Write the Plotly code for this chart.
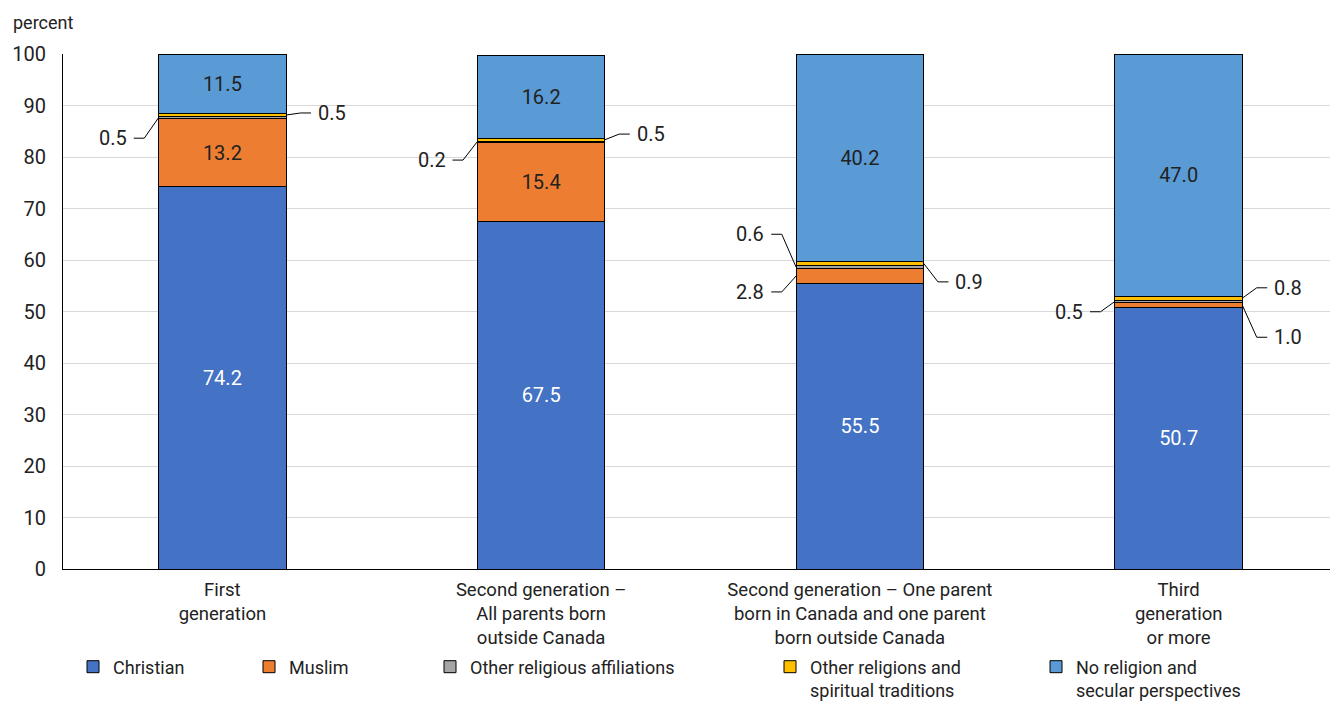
import plotly.graph_objects as go

categories = [
    "First<br>generation",
    "Second generation –<br>All parents born<br>outside Canada",
    "Second generation – One parent<br>born in Canada and one parent<br>born outside Canada",
    "Third<br>generation<br>or more",
]
series_names = [
    "Christian",
    "Muslim",
    "Other religious affiliations",
    "Other religions and<br>spiritual traditions",
    "No religion and<br>secular perspectives",
]
christian = [74.2, 67.5, 55.5, 50.7]
muslim = [13.2, 15.4, 2.8, 1.0]
other_affiliations = [0.5, 0.2, 0.6, 0.5]
other_religions = [0.5, 0.5, 0.9, 0.8]
no_religion = [11.5, 16.2, 40.2, 47.0]
series_values = [christian, muslim, other_affiliations, other_religions, no_religion]
colors = ["#4472C4", "#ED7D31", "#A5A5A5", "#FFC000", "#5B9BD5"]
text_colors = ["#FFFFFF", "#222222", "#222222", "#222222", "#222222"]

# callouts for thin segments: (category index, series index, side, label offset in percent units)
callouts = [
    (0, 2, "L", -4.0), (0, 3, "R", 0.4),
    (1, 2, "L", -3.6), (1, 3, "R", 1.1),
    (2, 2, "L", 6.4), (2, 1, "L", -3.1), (2, 3, "R", -3.6),
    (3, 2, "L", -2.0), (3, 3, "R", 2.0), (3, 1, "R", -6.2),
]

FONT = "Roboto, sans-serif"
FS = 20
W, H = 1330, 694  # page body adds an 8px margin
x_idx = list(range(len(categories)))
BAR_W = 0.4

fig = go.Figure()
legend_ids = ["legend", "legend2", "legend3", "legend4", "legend5"]
for k, (name, vals) in enumerate(zip(series_names, series_values)):
    fig.add_trace(go.Bar(
        x=x_idx, y=vals, name=name, width=BAR_W,
        marker=dict(color=colors[k], line=dict(color="#000000", width=1)),
        text=[f"{v:.1f}" if v >= 5 else "" for v in vals],
        textposition="inside", insidetextanchor="middle", textangle=0,
        textfont=dict(color=text_colors[k], size=FS, family=FONT),
        hoverinfo="skip",
        legend=legend_ids[k],
        showlegend=True,
    ))

# leader lines + labels
shapes = []
annotations = []
for ci, si, side, dy in callouts:
    base = sum(series_values[s][ci] for s in range(si))
    mid = base + series_values[si][ci] / 2
    sgn = -1 if side == "L" else 1
    x0 = ci + sgn * BAR_W / 2
    x1 = ci + sgn * (BAR_W / 2 + 0.045)
    x2 = ci + sgn * (BAR_W / 2 + 0.078)
    y1 = mid + dy
    shapes.append(dict(type="path", xref="x", yref="y",
                       path=f"M {x0},{mid} L {x1},{y1} L {x2},{y1}",
                       line=dict(color="#000000", width=1)))
    annotations.append(dict(x=x2, y=y1, xref="x", yref="y", showarrow=False,
                            text=f"{series_values[si][ci]:.1f}",
                            xanchor="right" if side == "L" else "left",
                            xshift=-5 if side == "L" else 5,
                            font=dict(size=FS, color="#222222", family=FONT)))

annotations.append(dict(x=-0.041, y=1.062, xref="paper", yref="paper", showarrow=False,
                        text="percent", xanchor="left", yanchor="middle",
                        font=dict(size=18, color="#222222", family=FONT)))

layout_legends = {}
legend_x_px = [65, 241, 422, 762, 1028]
for lid, px in zip(legend_ids, legend_x_px):
    layout_legends[lid] = dict(
        x=px / W, y=1 - 640.5 / H, xref="container", yref="container",
        xanchor="left", yanchor="top", valign="top",
        orientation="h", bgcolor="rgba(0,0,0,0)", itemwidth=30,
        font=dict(size=18, color="#222222", family=FONT),
        itemclick=False, itemdoubleclick=False,
    )

fig.update_layout(
    width=W, height=H,
    margin=dict(l=55, r=0, t=46, b=133, autoexpand=False),
    plot_bgcolor="white", paper_bgcolor="white",
    barmode="stack",
    font=dict(family=FONT, size=FS, color="#222222"),
    shapes=shapes, annotations=annotations,
    xaxis=dict(tickmode="array", tickvals=x_idx, ticktext=categories,
               range=[-0.5, len(categories) - 0.5], showgrid=False,
               showline=True, linecolor="#000000", linewidth=1,
               ticks="", ticklabelstandoff=4,
               tickfont=dict(size=18.5, color="#222222", family=FONT),
               automargin=False, fixedrange=True),
    yaxis=dict(range=[0, 100], dtick=10, showgrid=True, gridcolor="#D9D9D9",
               gridwidth=1, showline=True, linecolor="#000000", linewidth=1,
               ticks="", ticklabelstandoff=12, zeroline=False,
               tickfont=dict(size=FS, color="#222222", family=FONT),
               automargin=False, fixedrange=True),
    **layout_legends,
)

fig.write_html("out.html")
